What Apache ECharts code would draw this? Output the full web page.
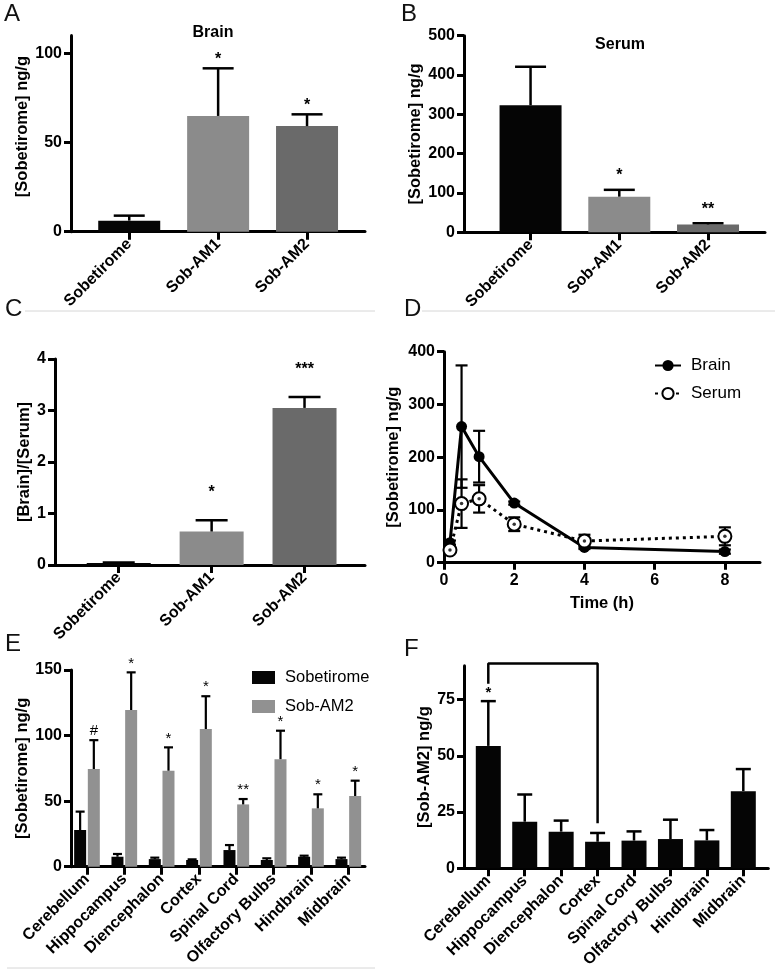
<!DOCTYPE html>
<html><head><meta charset="utf-8">
<script src="https://cdn.jsdelivr.net/npm/echarts@6/dist/echarts.min.js"></script>
<style>html,body{margin:0;padding:0;background:#fff}#c{width:784px;height:975px}</style>
</head><body><div id="c"></div>
<script>
// ---------- data ----------
const compounds = ['Sobetirome', 'Sob-AM1', 'Sob-AM2'];
const brainConc = [6.2, 64.9, 59.2];
const brainConcErr = [2.8, 26.7, 6.6];
const brainSig = ['', '*', '*'];
const serumConc = [323, 90.6, 20];
const serumConcErr = [98, 17.4, 3];
const serumSig = ['', '*', '**'];
const ratio = [0.04, 0.65, 3.05];
const ratioErr = [0.01, 0.22, 0.21];
const ratioSig = ['', '*', '***'];

const times = [0.17, 0.5, 1, 2, 4, 8];
const brainTime = [38, 258, 201, 113, 29, 21];
const brainTimeErr = [4, 116, 49, 3, 3, 4];
const serumTime = [24, 112, 121, 73, 41, 50];
const serumTimeErr = [3, 46, 26, 13, 12, 17];

const regions = ['Cerebellum', 'Hippocampus', 'Diencephalon', 'Cortex', 'Spinal Cord', 'Olfactory Bulbs', 'Hindbrain', 'Midbrain'];
const regionSob = [28, 7.6, 5.8, 5.1, 12.7, 5.1, 7.6, 5.8];
const regionSobErr = [14, 2.1, 1.1, 0.5, 3.8, 1.3, 0.8, 1.1];
const regionAM2 = [74.5, 119.5, 73.2, 105, 47.5, 82, 44.5, 53.9];
const regionAM2Err = [22, 28.7, 17.8, 25, 4.1, 21.7, 10.7, 11.7];
const regionAM2Sig = ['#', '*', '*', '*', '**', '*', '*', '*'];

const amideConc = [54.4, 20.7, 16.3, 11.8, 12.3, 13, 12.4, 34.3];
const amideConcErr = [19.9, 12.1, 4.9, 3.9, 4.1, 8.6, 4.6, 9.8];
const amideSig = ['*', '', '', '', '', '', '', ''];
const amideBracket = [[0, 82], [0, 91], [3, 91], [3, 20]];

const ticksA = [0, 50, 100];
const ticksB = [0, 100, 200, 300, 400, 500];
const ticksC = [0, 1, 2, 3, 4];
const ticksDy = [0, 100, 200, 300, 400];
const ticksDx = [0, 2, 4, 6, 8];
const ticksE = [0, 50, 100, 150];
const ticksF = [0, 25, 50, 75];

// ---------- styling ----------
const FONT = "'Liberation Sans', Arial, Helvetica, sans-serif";
const compoundColors = ['#050505', '#8b8b8b', '#6a6a6a'];
const grayBar = '#919191';

const grids = [], xAxes = [], yAxes = [], series = [];

function axisBase() {
  return {
    axisLine: { show: true, onZero: false, lineStyle: { color: '#000', width: 3 } },
    axisTick: { show: true, length: 7, lineStyle: { color: '#000', width: 3 } },
    splitLine: { show: false },
    axisLabel: { color: '#000', fontFamily: FONT, fontWeight: 'bold', fontSize: 16, margin: 9 },
    nameTextStyle: { color: '#000', fontFamily: FONT, fontWeight: 'bold', fontSize: 16.5 }
  };
}
function addGrid(g) {
  grids.push(Object.assign({ containLabel: false, outerBoundsMode: 'none' }, g));
  return grids.length - 1;
}
function catX(gi, cats, min, max) {
  const a = axisBase();
  const idx = cats.map((_, i) => i);
  a.type = 'value'; a.gridIndex = gi; a.min = min; a.max = max;
  a.axisTick.customValues = idx; a.axisTick.length = 8;
  a.axisLabel.customValues = idx; a.axisLabel.rotate = 45; a.axisLabel.margin = 10;
  a.axisLabel.formatter = v => cats[Math.round(v)] || '';
  xAxes.push(a);
}
function valY(gi, ticks, max, name, gap, pad) {
  const a = axisBase();
  a.type = 'value'; a.gridIndex = gi; a.min = 0; a.max = max;
  a.axisTick.customValues = ticks; a.axisLabel.customValues = ticks;
  a.name = name; a.nameLocation = 'middle'; a.nameGap = gap;
  if (pad) a.nameTextStyle.padding = pad;
  yAxes.push(a);
}
function bars(gi, vals, colors, w, name, extra) {
  const multi = Array.isArray(colors);
  return Object.assign({
    type: 'bar', name: name, xAxisIndex: gi, yAxisIndex: gi, barWidth: w, z: 3,
    itemStyle: { color: multi ? colors[0] : colors },
    data: vals.map((v, i) => ({ value: [i, v], itemStyle: { color: multi ? colors[i] : colors } }))
  }, extra || {});
}
function errBars(gi, xs, means, errs, sigs, o) {
  return {
    type: 'custom', xAxisIndex: gi, yAxisIndex: gi, z: o.z || 4, silent: true,
    data: xs.map((x, i) => [x, means[i], errs[i]]),
    renderItem: function (params, api) {
      const x = api.value(0), m = api.value(1), e = api.value(2);
      const pm = api.coord([x, m]);
      const pt = api.coord([x, m + e]);
      const cx = pm[0] + (o.dx || 0);
      const st = { stroke: '#000', lineWidth: o.lw };
      const ch = [
        { type: 'line', shape: { x1: cx, y1: pm[1], x2: cx, y2: pt[1] }, style: st },
        { type: 'line', shape: { x1: cx - o.cap / 2, y1: pt[1], x2: cx + o.cap / 2, y2: pt[1] }, style: st }
      ];
      if (o.both) {
        const pb = api.coord([x, m - e]);
        ch.push({ type: 'line', shape: { x1: cx, y1: pm[1], x2: cx, y2: pb[1] }, style: st });
        ch.push({ type: 'line', shape: { x1: cx - o.cap / 2, y1: pb[1], x2: cx + o.cap / 2, y2: pb[1] }, style: st });
      }
      const s = sigs && sigs[params.dataIndex];
      if (s) ch.push({ type: 'text', style: { text: s, x: cx, y: pt[1] - o.sd, align: 'center', verticalAlign: 'middle', fontSize: o.sf || 16, fontWeight: o.sw || 'bold', fontFamily: FONT, fill: '#000' } });
      return { type: 'group', children: ch };
    }
  };
}
const idx3 = compounds.map((_, i) => i);
const idx8 = regions.map((_, i) => i);

// ---- A: Brain ----
let g = addGrid({ left: 71, top: 35.5, width: 294, height: 196.2 });
catX(g, compounds, -0.655, 2.652);
valY(g, ticksA, 110, '[Sobetirome] ng/g', 36, [0, 0, 0, 14]);
series.push(bars(g, brainConc, compoundColors, 62, 'A'));
series.push(errBars(g, idx3, brainConc, brainConcErr, brainSig, { lw: 2.5, cap: 31, sd: 9 }));

// ---- B: Serum ----
g = addGrid({ left: 464, top: 35.7, width: 301, height: 196.6 });
catX(g, compounds, -0.75, 2.642);
valY(g, ticksB, 500, '[Sobetirome] ng/g', 31);
series.push(bars(g, serumConc, compoundColors, 62, 'B'));
series.push(errBars(g, idx3, serumConc, serumConcErr, serumSig, { lw: 2.5, cap: 31, sd: 14 }));

// ---- C: ratio ----
g = addGrid({ left: 55, top: 359, width: 310, height: 206 });
catX(g, compounds, -0.686, 2.651);
valY(g, ticksC, 4, '[Brain]/[Serum]', 22);
series.push(bars(g, ratio, compoundColors, 64, 'C'));
series.push(errBars(g, idx3, ratio, ratioErr, ratioSig, { lw: 2.5, cap: 32, sd: 28 }));

// ---- D: time course ----
g = addGrid({ left: 444, top: 351.7, width: 316, height: 211 });
(function () {
  const a = axisBase();
  a.type = 'value'; a.gridIndex = g; a.min = 0; a.max = 9;
  a.axisTick.customValues = ticksDx; a.axisLabel.customValues = ticksDx; a.axisLabel.margin = 10;
  a.name = 'Time (h)'; a.nameLocation = 'middle'; a.nameGap = 32;
  xAxes.push(a);
})();
valY(g, ticksDy, 400, '[Sobetirome] ng/g', 42);
series.push(errBars(g, times, brainTime, brainTimeErr, null, { lw: 2.2, cap: 12, both: true, z: 1 }));
series.push(errBars(g, times, serumTime, serumTimeErr, null, { lw: 2.2, cap: 12, both: true, z: 1 }));
series.push({
  type: 'line', name: 'Brain', xAxisIndex: g, yAxisIndex: g, z: 2,
  data: times.map((t, i) => [t, brainTime[i]]),
  symbol: 'circle', symbolSize: 11,
  lineStyle: { color: '#000', width: 3 }, itemStyle: { color: '#000' }
});
series.push({
  type: 'line', name: 'Serum', xAxisIndex: g, yAxisIndex: g, z: 3,
  data: times.map((t, i) => [t, serumTime[i]]),
  symbol: 'circle', symbolSize: 13,
  lineStyle: { color: '#000', width: 3, type: [3, 4] },
  itemStyle: { color: '#fff', borderColor: '#000', borderWidth: 2 }
});
series.push({
  type: 'scatter', xAxisIndex: g, yAxisIndex: g, z: 4, silent: true,
  data: times.map((t, i) => [t, serumTime[i]]),
  symbol: 'circle', symbolSize: 3.5, itemStyle: { color: '#000' }
});

// ---- E: regions, two compounds ----
g = addGrid({ left: 71, top: 670, width: 294, height: 196.7 });
catX(g, regions, -0.428, 7.447);
valY(g, ticksE, 150, '[Sobetirome] ng/g', 37);
series.push(bars(g, regionSob, '#050505', 12, 'Sobetirome', { barGap: '14%' }));
series.push(bars(g, regionAM2, grayBar, 12, 'Sob-AM2', { barGap: '14%' }));
series.push(errBars(g, idx8, regionSob, regionSobErr, null, { lw: 2.2, cap: 9, dx: -6.85 }));
series.push(errBars(g, idx8, regionAM2, regionAM2Err, regionAM2Sig, { lw: 2.2, cap: 9, dx: 6.85, sd: 9, sf: 15, sw: 'normal' }));

// ---- F: Sob-AM2 regions ----
g = addGrid({ left: 464, top: 665.8, width: 304.3, height: 202.5 });
catX(g, regions, -0.667, 7.686);
valY(g, ticksF, 90, '[Sob-AM2] ng/g', 30);
series.push(bars(g, amideConc, '#050505', 25, 'F'));
series.push(errBars(g, idx8, amideConc, amideConcErr, amideSig, { lw: 2.5, cap: 15, sd: 8, sf: 15 }));
series.push({
  type: 'line', xAxisIndex: g, yAxisIndex: g, z: 5, silent: true, clip: false,
  data: amideBracket, symbol: 'none', lineStyle: { color: '#000', width: 2.5 }
});

const panelFont = { fontFamily: FONT, fontSize: 24, fontWeight: 'normal', color: '#111' };
const plotTitle = { fontFamily: FONT, fontSize: 16, fontWeight: 'bold', color: '#000' };

const chart = echarts.init(document.getElementById('c'), null, { renderer: 'canvas' });
chart.setOption({
  animation: false,
  backgroundColor: '#fff',
  title: [
    { text: 'A', left: 4, top: 2, padding: 0, textStyle: panelFont },
    { text: 'B', left: 401, top: 2, padding: 0, textStyle: panelFont },
    { text: 'C', left: 5, top: 297, padding: 0, textStyle: panelFont },
    { text: 'D', left: 404, top: 297, padding: 0, textStyle: panelFont },
    { text: 'E', left: 5, top: 632, padding: 0, textStyle: panelFont },
    { text: 'F', left: 404, top: 637, padding: 0, textStyle: panelFont },
    { text: 'Brain', left: 213, top: 25, textAlign: 'center', padding: 0, textStyle: plotTitle },
    { text: 'Serum', left: 620, top: 37, textAlign: 'center', padding: 0, textStyle: plotTitle }
  ],
  legend: [
    { data: ['Brain', 'Serum'], orient: 'vertical', left: 649, top: 352, itemWidth: 26, itemHeight: 14, itemGap: 11,
      textStyle: { fontFamily: FONT, fontSize: 17, color: '#000', padding: [0, 0, 0, 5] } },
    { data: ['Sobetirome', 'Sob-AM2'], orient: 'vertical', left: 247, top: 664, itemWidth: 23, itemHeight: 13, itemGap: 12,
      icon: 'rect', textStyle: { fontFamily: FONT, fontSize: 16.5, color: '#000', padding: [0, 0, 0, 5] } }
  ],
  grid: grids,
  xAxis: xAxes,
  yAxis: yAxes,
  series: series,
  graphic: [
    { type: 'line', shape: { x1: 25, y1: 311, x2: 375, y2: 311 }, style: { stroke: '#d6d6d6', lineWidth: 1 } },
    { type: 'line', shape: { x1: 422, y1: 311, x2: 775, y2: 311 }, style: { stroke: '#d6d6d6', lineWidth: 1 } },
    { type: 'line', shape: { x1: 7, y1: 968, x2: 375, y2: 968 }, style: { stroke: '#d6d6d6', lineWidth: 1 } }
  ]
});
</script>
</body></html>
